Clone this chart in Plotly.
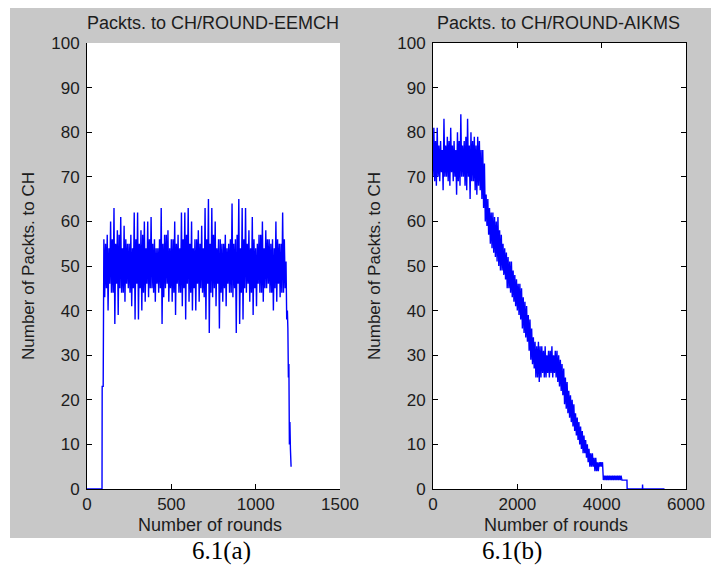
import plotly.graph_objects as go

# ---- data -------------------------------------------------------------------
# (a) EEMCH: packets to CH per round (alternating high / low samples)
ramp_a_x = [0, 89, 90, 96]
ramp_a_y = [0, 0, 23, 23]
noise_a_start, noise_a_step = 100, 5
noise_a = [
    56, 43, 55, 45, 57, 40, 54, 46, 60, 44, 56, 44, 63, 37, 55, 46, 58, 39, 57, 45,
    61, 44, 54, 44, 59, 42, 56, 46, 55, 45, 55, 44, 57, 41, 54, 45, 62, 38, 56, 46,
    62, 38, 55, 45, 58, 40, 57, 44, 60, 42, 54, 46, 60, 43, 56, 45, 61, 45, 55, 44,
    56, 42, 54, 46, 54, 44, 56, 45, 63, 37, 55, 43, 57, 45, 57, 46, 58, 42, 54, 45,
    56, 42, 56, 44, 60, 39, 55, 46, 57, 44, 54, 44, 62, 41, 56, 45, 62, 38, 57, 46,
    63, 42, 55, 44, 60, 40, 54, 45, 56, 40, 56, 46, 58, 42, 55, 45, 59, 44, 54, 43,
    63, 38, 56, 46, 65, 35, 55, 44, 63, 43, 57, 45, 60, 41, 54, 46, 56, 36, 56, 44,
    55, 42, 55, 45, 57, 41, 54, 46, 55, 44, 56, 44, 64, 43, 55, 45, 56, 35, 57, 46,
    65, 37, 54, 44, 63, 38, 56, 45, 63, 44, 55, 46, 58, 42, 54, 44, 61, 39, 56, 45,
    54, 41, 55, 46, 57, 44, 57, 44, 60, 42, 54, 45, 58, 45, 56, 46, 56, 44, 55, 44,
    56, 40, 54, 45, 60, 42, 56, 46, 55, 43, 55, 44, 62, 44, 56, 45,
]
tail_a_x = [1180, 1184, 1188, 1191, 1194, 1197, 1200, 1203, 1206, 1210]
tail_a_y = [51, 38, 40, 36, 25, 28, 10, 15, 9, 5]

# (b) AIKMS (alternating low / high samples)
noise_b_start, noise_b_step = 0, 20
noise_b = [
    70, 81, 69, 78, 68, 81, 70, 77, 69, 78, 71, 76, 67, 83, 70, 77, 70, 79, 69, 78,
    68, 81, 71, 77, 69, 78, 70, 76, 66, 80, 69, 78, 68, 84, 70, 77, 70, 78, 68, 79,
    67, 83, 70, 77, 65, 80, 69, 78, 69, 79, 67, 77, 66, 79, 68, 78, 67, 76,
    65, 76, 63, 73, 60, 66,
    59, 65, 57, 63, 55, 62, 54, 62, 53, 61, 52, 60, 51, 61, 50, 58, 49, 57, 49, 55,
    48, 54, 47, 53, 45, 52, 45, 51, 44, 51, 43, 49, 42, 48, 41, 47, 40, 46, 39, 46,
    38, 45, 36, 43, 35, 42, 34, 41, 33, 39, 31, 38, 29, 36, 28, 34,
    27, 33, 25, 32, 25, 33, 24, 32, 25, 32, 26, 31, 25, 32, 25, 30, 26, 31, 25, 31,
    26, 32, 25, 30, 26, 31, 25, 31, 24, 30,
    23, 29, 22, 28, 21, 27, 19, 25, 18, 24, 17, 22, 16, 21, 15, 20, 14, 19, 13, 17,
    12, 16, 11, 15, 10, 14, 9, 13, 8, 12, 8, 11, 7, 10, 6, 9,
    5, 8, 5, 8, 5, 7, 4, 7, 4, 6, 4, 6, 5, 6,
    5, 6, 2, 3,
    2, 3, 2, 3, 2, 3, 2, 3, 2, 3, 2, 3, 2, 3, 2, 3, 2, 3, 2, 3, 2, 2, 2, 2, 2, 2,
]
tail_b_x = [4600, 4604, 4966, 4970, 4974, 5490]
tail_b_y = [2, 0, 0, 1, 0, 0]

panel_titles = ["Packts. to CH/ROUND-EEMCH", "Packts. to CH/ROUND-AIKMS"]
captions = ["6.1(a)", "6.1(b)"]
x_ticks_a = [0, 500, 1000, 1500]
x_ticks_b = [0, 2000, 4000, 6000]
y_ticks = [0, 10, 20, 30, 40, 50, 60, 70, 80, 90, 100]

# ---- series assembly ---------------------------------------------------------
xa = ramp_a_x + [noise_a_start + i * noise_a_step for i in range(len(noise_a))] + tail_a_x
ya = ramp_a_y + noise_a + tail_a_y
xb = [noise_b_start + i * noise_b_step for i in range(len(noise_b))] + tail_b_x
yb = noise_b + tail_b_y

# the page body has an 8px margin, so the figure is drawn 8px smaller and
# all pixel positions below are given in window coordinates
OFF = 8
W, H = 719 - OFF, 568 - OFF
BLUE = "#0000ff"
INK = "#1c1c1c"
SANS = "Liberation Sans, Arial, sans-serif"
SERIF = "Liberation Serif, Times New Roman, serif"


def px(x):
    return (x - OFF) / W


def py(y):
    return 1 - (y - OFF) / H


fig = go.Figure()
fig.add_trace(go.Scatter(x=xa, y=ya, mode="lines", line=dict(color=BLUE, width=1.4),
                         xaxis="x", yaxis="y", hoverinfo="skip", showlegend=False))
fig.add_trace(go.Scatter(x=xb, y=yb, mode="lines", line=dict(color=BLUE, width=1.4),
                         xaxis="x2", yaxis="y2", hoverinfo="skip", showlegend=False))

axis_common = dict(
    showline=True, linecolor="black", linewidth=1,
    ticks="inside", ticklen=5, tickcolor="black", tickwidth=1,
    showgrid=False, zeroline=False, layer="below traces", automargin=False,
    tickfont=dict(family=SANS, size=17, color=INK),
)

# plot boxes in window pixels: (a) x 87..340, (b) x 433..686, both y 43..489
fig.update_layout(
    template="none",
    width=W, height=H,
    margin=dict(l=0, r=0, t=0, b=0),
    paper_bgcolor="white", plot_bgcolor="white",
    xaxis=dict(domain=[px(87), px(340)], range=[0, 1500], tickvals=x_ticks_a,
               anchor="y", mirror=False, **axis_common),
    yaxis=dict(domain=[py(489), py(43)], range=[0, 100], tickvals=y_ticks,
               anchor="x", mirror=False, ticklabelstandoff=3, **axis_common),
    xaxis2=dict(domain=[px(433), px(686)], range=[0, 6000], tickvals=x_ticks_b,
                anchor="y2", mirror="ticks", **axis_common),
    yaxis2=dict(domain=[py(489), py(43)], range=[0, 100], tickvals=y_ticks,
                anchor="x2", mirror="ticks", ticklabelstandoff=3, **axis_common),
)

# MATLAB-style grey figure panel, white axes backgrounds
fig.add_shape(type="rect", xref="paper", yref="paper", layer="below",
              x0=px(10), x1=1, y0=py(538), y1=py(8),
              fillcolor="#c8c8c8", line=dict(width=0))
for x0, x1 in [(87, 340), (433, 686)]:
    fig.add_shape(type="rect", xref="paper", yref="paper", layer="below",
                  x0=px(x0), x1=px(x1), y0=py(489), y1=py(43),
                  fillcolor="white", line=dict(width=0))


def label(text, x, y, size=18, angle=0, family=SANS, color=INK):
    fig.add_annotation(text=text, x=px(x), y=py(y), xref="paper", yref="paper",
                       xanchor="center", yanchor="middle", showarrow=False,
                       textangle=angle, font=dict(family=family, size=size, color=color))


label(panel_titles[0], 213, 23)
label(panel_titles[1], 558, 23)
label("Number of Packts. to CH", 29, 266, size=17, angle=-90)
label("Number of Packts. to CH", 375, 266, size=17, angle=-90)
label("Number of rounds", 210, 525)
label("Number of rounds", 556, 525)
label(captions[0], 221, 551, size=25, family=SERIF, color="black")
label(captions[1], 512, 551, size=25, family=SERIF, color="black")

fig.write_html("out.html")
